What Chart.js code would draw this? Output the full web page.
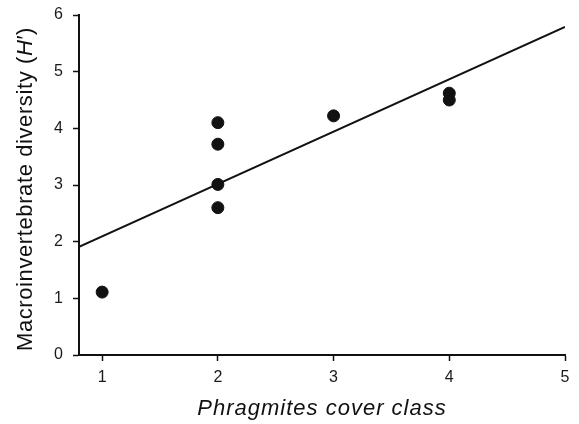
<!DOCTYPE html>
<html>
<head>
<meta charset="utf-8">
<script src="https://cdn.jsdelivr.net/npm/chart.js@4"></script>
<style>
html,body{margin:0;padding:0;background:#fff;}
#wrap{width:579px;height:424px;position:relative;}
</style>
</head>
<body>
<div id="wrap"><canvas id="c" width="579" height="424"></canvas></div>
<script>
// Data
const coverClass = [1, 2, 2, 2, 2, 3, 4, 4];
const diversity  = [1.11, 2.60, 3.01, 3.72, 4.10, 4.22, 4.50, 4.62];
const fitX = [0.8, 5];
const fitY = [1.91, 5.79];
const xTicks = [1, 2, 3, 4, 5];
const yTicks = [0, 1, 2, 3, 4, 5, 6];
const xTitleParts = [['Phragmites cover class', true]];
const yTitleParts = [['Macroinvertebrate diversity (', false], ['H', true], ['\u2032', false], [')', false]];

const FONT = '"Liberation Sans", Arial, sans-serif';

function drawParts(ctx, parts, size, spacing) {
  const fonts = parts.map(p => (p[1] ? 'italic ' : '') + size + 'px ' + FONT);
  ctx.letterSpacing = spacing + 'px';
  let total = 0;
  parts.forEach((p, i) => { ctx.font = fonts[i]; total += ctx.measureText(p[0]).width; });
  let x = -total / 2;
  parts.forEach((p, i) => {
    ctx.font = fonts[i];
    ctx.textAlign = 'left';
    ctx.fillText(p[0], x, 0);
    x += ctx.measureText(p[0]).width;
  });
}

const titlesPlugin = {
  id: 'titles',
  afterDraw(chart) {
    const ctx = chart.ctx;
    const area = chart.chartArea;
    ctx.save();
    ctx.fillStyle = '#111';
    ctx.textBaseline = 'middle';
    ctx.translate(26, 189);
    ctx.rotate(-Math.PI / 2);
    drawParts(ctx, yTitleParts, 22, 0.6);
    ctx.restore();

    ctx.save();
    ctx.fillStyle = '#111';
    ctx.textBaseline = 'alphabetic';
    ctx.translate((area.left + area.right) / 2, 415);
    drawParts(ctx, xTitleParts, 22, 1);
    ctx.restore();
  }
};

new Chart(document.getElementById('c'), {
  type: 'scatter',
  data: {
    datasets: [
      {
        type: 'line',
        data: fitX.map((x, i) => ({x: x, y: fitY[i]})),
        borderColor: '#111',
        borderWidth: 2,
        pointRadius: 0,
        fill: false,
        order: 2
      },
      {
        data: coverClass.map((x, i) => ({x: x, y: diversity[i]})),
        backgroundColor: '#111',
        borderColor: '#111',
        pointRadius: 6,
        pointHoverRadius: 6,
        order: 1
      }
    ]
  },
  options: {
    responsive: false,
    animation: false,
    layout: { padding: { left: 0, right: 14, top: 15, bottom: 0 } },
    plugins: { legend: { display: false }, tooltip: { enabled: false } },
    scales: {
      x: {
        type: 'linear',
        min: 0.8, max: 5,
        afterBuildTicks(scale) { scale.ticks = xTicks.map(v => ({value: v})); },
        afterFit(scale) { scale.height = 69; },
        grid: { drawOnChartArea: false, tickLength: 6, color: '#111', tickWidth: 1.5 },
        border: { color: '#111', width: 2 },
        ticks: { color: '#1a1a1a', font: { family: FONT, size: 16 }, padding: 7, maxRotation: 0 }
      },
      y: {
        type: 'linear',
        min: 0, max: 6,
        afterBuildTicks(scale) { scale.ticks = yTicks.map(v => ({value: v})); },
        afterFit(scale) { scale.width = 79; scale.paddingTop = 0; },
        grid: { drawOnChartArea: false, tickLength: 6, color: '#111', tickWidth: 1.5 },
        border: { color: '#111', width: 2 },
        ticks: { color: '#1a1a1a', font: { family: FONT, size: 16 }, padding: 10 }
      }
    }
  },
  plugins: [titlesPlugin]
});
</script>
</body>
</html>
